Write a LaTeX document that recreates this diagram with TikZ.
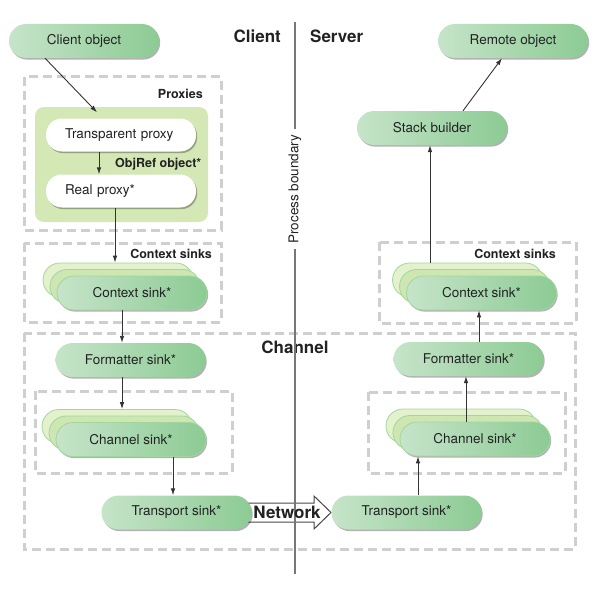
\documentclass[tikz,border=0pt]{standalone}
\usepackage{fontspec}
\setmainfont{TeX Gyre Heros}
\usetikzlibrary{arrows.meta,shadows,calc}
\definecolor{pillL}{HTML}{C6E4C9}
\definecolor{pillR}{HTML}{8CCB94}
\definecolor{dashgray}{HTML}{CFCFCF}
\definecolor{proxybg}{HTML}{D3E8B4}
\definecolor{layerA}{HTML}{E3F2CC}
\definecolor{layerB}{HTML}{CDE6B2}
\definecolor{layerline}{HTML}{A3D69C}
\definecolor{linegray}{HTML}{777777}
\definecolor{arrowgray}{HTML}{333333}
\definecolor{txt}{HTML}{222222}
\newcommand\sinkstack[3]{%
  \node[layerpill, fill=layerA] (#1b) at ($(#2)+(-14,-13)$) {};
  \node[layerpill, fill=layerB] (#1m) at ($(#2)+(-7,-6.5)$) {};
  \node[pill, draw=layerline, line width=0.8pt] (#1) at (#2) {#3};
}
\begin{document}
\begin{tikzpicture}[x=1pt,y=-1pt,
  every node/.style={font=\fontsize{13.5}{16}\selectfont, text=txt},
  pshadow/.style={drop shadow={shadow xshift=1.2pt, shadow yshift=-1.6pt, opacity=0.3, fill=black}},
  pill/.style={rectangle, rounded corners=17pt, minimum width=150pt, minimum height=34pt,
    inner sep=0pt, left color=pillL, right color=pillR, pshadow},
  whitepill/.style={rectangle, rounded corners=16pt, minimum width=150pt, minimum height=33pt,
    fill=white, pshadow, align=left, text width=112pt, inner xsep=19pt, inner ysep=0pt},
  layerpill/.style={rectangle, rounded corners=17pt, minimum width=150pt, minimum height=34pt,
    inner sep=0pt, draw=layerline, line width=0.8pt},
  dashbox/.style={draw=dashgray, line width=3pt, dash pattern=on 9pt off 5pt},
  arr/.style={draw=arrowgray, line width=0.9pt, -{Latex[length=7pt,width=4.6pt]}},
  lab/.style={font=\fontsize{12.5}{15}\bfseries\selectfont},
  biglab/.style={font=\fontsize{17}{20}\bfseries\selectfont},
  netarrow/.style={draw=arrowgray!90, line width=1pt, fill=white, line join=miter},
  pbline/.style={draw=linegray, line width=1.5pt}
]
\useasboundingbox (0,0) rectangle (600,594);

% dashed containers
\draw[dashbox] (24,77) rectangle (221,230);
\draw[dashbox] (24,243) rectangle (221,322);
\draw[dashbox] (379,242) rectangle (576,323);
\draw[dashbox] (24,333) rectangle (575,549);
\draw[dashbox] (35,391) rectangle (232,473);
\draw[dashbox] (368,392) rectangle (565,473);

% proxies area
\fill[proxybg, rounded corners=9pt] (35,107) rectangle (208,222);

% top nodes
\node[pill] (client) at (84,41) {Client object};
\node[pill] (remote) at (513,41) {Remote object};
\node[pill] (stackb) at (432,128) {Stack builder};
\node[whitepill] (transp) at (121,135) {Transparent proxy};
\node[whitepill] (real) at (121,191) {Real proxy*};

% sink stacks
\sinkstack{ctxL}{132,293}{Context sink*}
\sinkstack{ctxR}{481.5,293}{Context sink*}
\node[pill] (fmtL) at (130.5,360) {Formatter sink*};
\node[pill] (fmtR) at (468.5,359) {Formatter sink*};
\sinkstack{chL}{131,439.5}{Channel sink*}
\sinkstack{chR}{475,439}{Channel sink*}

% network arrow
\coordinate (netS) at (246,512.5);
\coordinate (netT) at (331,512.5);
\draw[netarrow] ($(netS)+(0,-9.5)$) -- ($(netT)+(-17,-9.5)$) -- ($(netT)+(-17,-16.5)$)
  -- (netT) -- ($(netT)+(-17,16.5)$) -- ($(netT)+(-17,9.5)$) -- ($(netS)+(0,9.5)$);
\node[pill] (trL) at (176.5,512.5) {Transport sink*};
\node[pill] (trR) at (406.5,512.5) {Transport sink*};

% connectors
\draw[arr] ([xshift=-39pt]client.south) -- ([xshift=-24pt,yshift=6pt]transp.north);
\coordinate (c0) at ([xshift=-22pt]transp.south);
\draw[arr] (c0) -- (real.north -| c0);
\coordinate (c1) at ([xshift=-6pt]real.south);
\draw[arr] (c1) -- (ctxLb.north -| c1);
\coordinate (c2) at ([xshift=-10pt]ctxL.south);
\draw[arr] (c2) -- (fmtL.north -| c2);
\coordinate (c3) at ([xshift=-8.5pt]fmtL.south);
\draw[arr] (c3) -- (chLb.north -| c3);
\coordinate (c4) at ([xshift=42pt]chL.south);
\draw[arr] (c4) -- (trL.north -| c4);
\coordinate (c5) at ([xshift=11.5pt]trR.north);
\draw[arr] (c5) -- (chR.south -| c5);
\coordinate (c6) at ([xshift=-9pt]chR.north);
\draw[arr] (c6) -- (fmtR.south -| c6);
\coordinate (c7) at ([xshift=10.5pt]fmtR.north);
\draw[arr] (c7) -- (ctxR.south -| c7);
\coordinate (c8) at ([xshift=-37.5pt]ctxRb.north);
\draw[arr] (c8) -- (stackb.south -| c8);
\draw[arr] ([xshift=31pt]stackb.north) -- ([xshift=-11pt]remote.south);

% process boundary
\node[rotate=90, inner sep=5pt] (pb) at (295,189) {Process boundary};
\coordinate (pbtop) at (295,22);
\coordinate (pbbot) at (295,574);
\draw[pbline] (pbtop) -- (pb.east);
\draw[pbline] (pb.west) -- (pbbot);

% labels
\node[biglab, anchor=east, inner sep=0pt] (clientlab) at (281,36) {Client};
\node[biglab, anchor=west, inner sep=0pt] (serverlab) at (310,36) {Server};
\node[lab, anchor=east, inner sep=0pt] (proxlab) at (203,94) {Proxies};
\node[lab, anchor=west, inner sep=0pt] (objref) at (115,164) {ObjRef object*};
\node[lab, anchor=east, inner sep=0pt] (ctxlabL) at (212,254) {Context sinks};
\node[lab, anchor=east, inner sep=0pt] (ctxlabR) at (556,254) {Context sinks};
\node[biglab, inner sep=0pt] (chanlab) at (295,347) {Channel};
\draw[pbline] (295,335) -- (295,360);
\node[biglab, inner sep=0pt] (netlab) at (287,512.5) {Network};
\end{tikzpicture}
\end{document}
